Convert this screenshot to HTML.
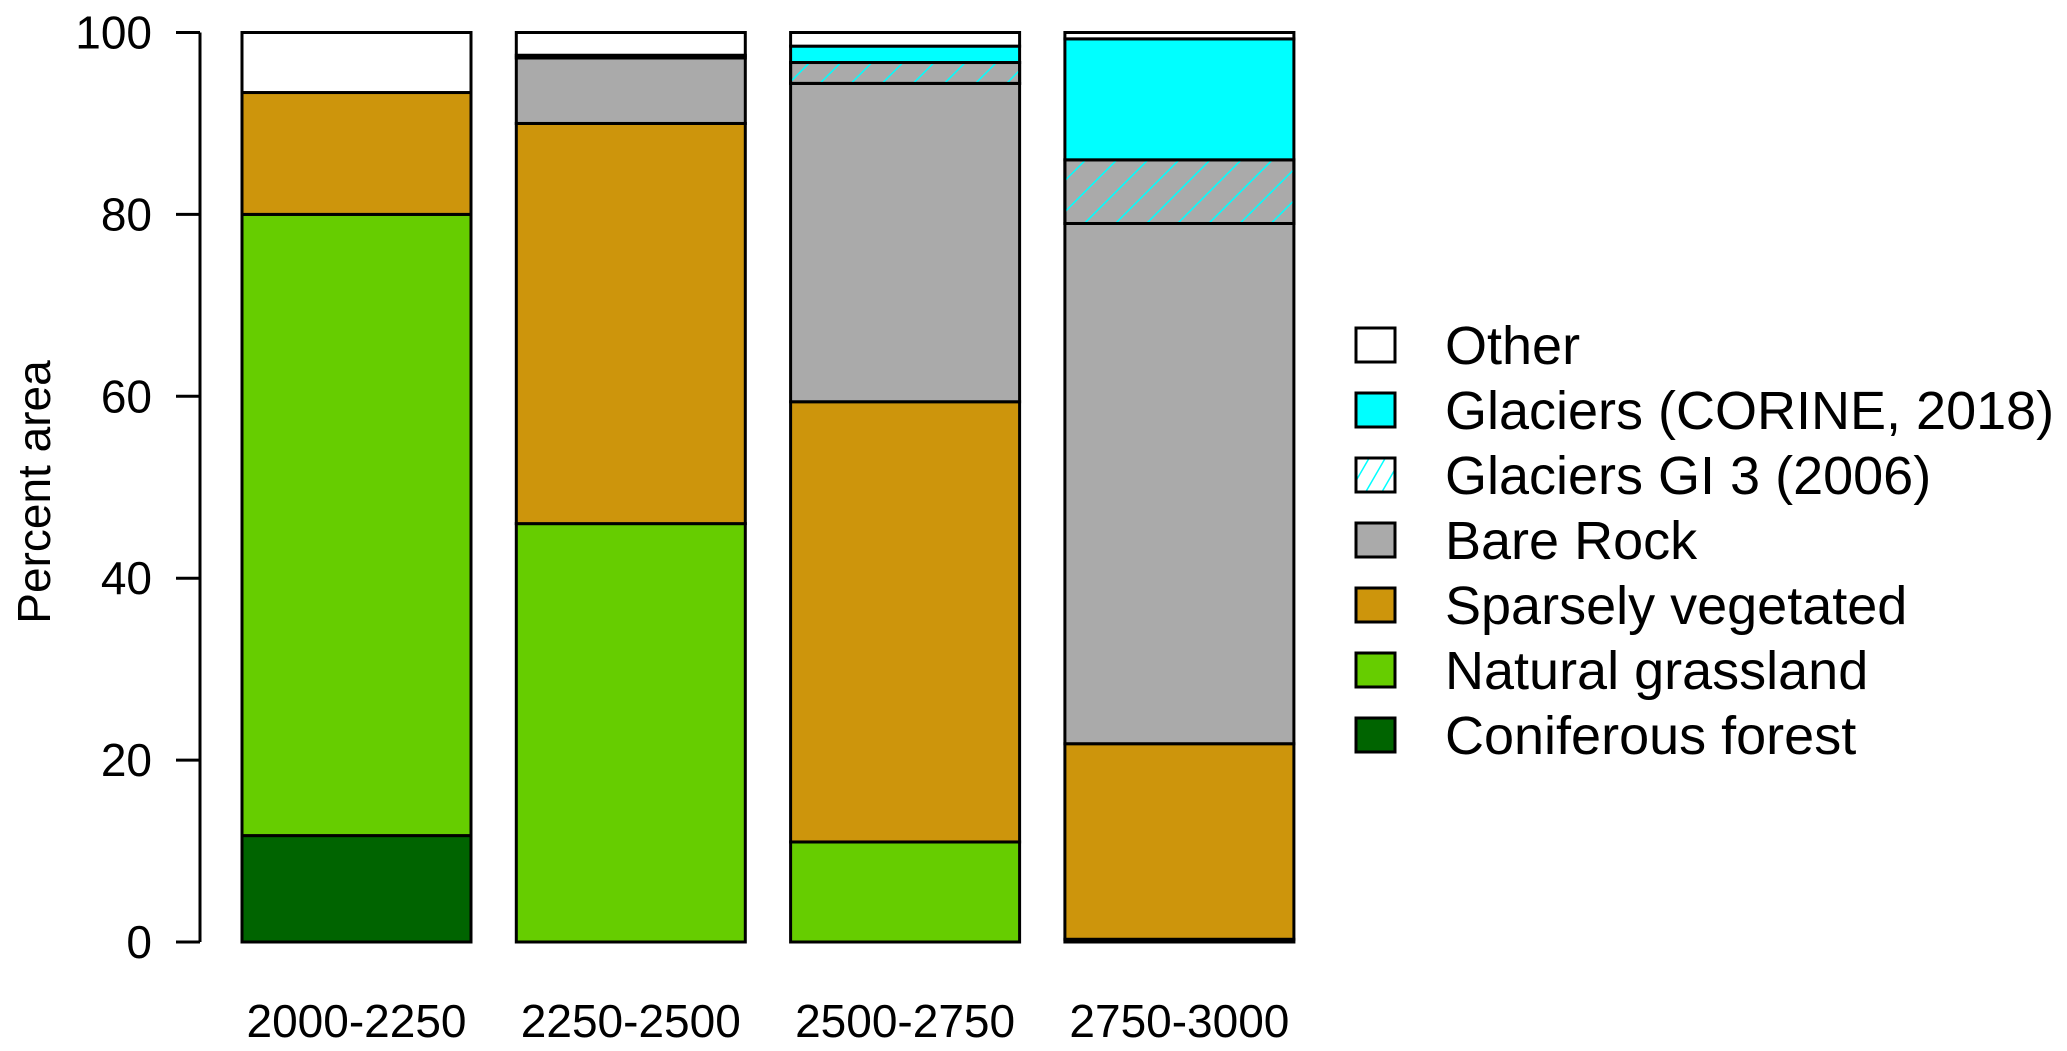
<!DOCTYPE html>
<html><head><meta charset="utf-8"><style>
html,body{margin:0;padding:0;background:#fff}
svg{display:block;font-family:"Liberation Sans",Arial,sans-serif}
</style></head><body>
<svg id="chart" width="2067" height="1051" viewBox="0 0 2067 1051" xmlns="http://www.w3.org/2000/svg">
<defs>
<pattern id="hatch" patternUnits="userSpaceOnUse" width="22" height="22" patternTransform="rotate(45)">
<line x1="0" y1="0" x2="0" y2="22" stroke="#00ffff" stroke-width="3"/>
</pattern>
<pattern id="hatchL" patternUnits="userSpaceOnUse" width="14" height="14" patternTransform="rotate(30)">
<line x1="0" y1="0" x2="0" y2="14" stroke="#00ffff" stroke-width="3"/>
</pattern>
</defs>
<g id="bars"></g>
<g id="axis"></g>
<g id="xlabels"></g>
<text x="0" y="0" transform="translate(50,492) rotate(-90)" text-anchor="middle" font-size="46">Percent area</text>
<g id="legend"></g>
</svg>
<script>
const categories = ["2000-2250","2250-2500","2500-2750","2750-3000"];
const coniferous = [11.7, 0, 0, 0];
const grassland = [68.3, 46, 11, 0.3];
const sparse = [13.4, 44, 48.4, 21.5];
const bareRock = [0, 7.2, 35, 57.2];
const glacierGI3 = [0, 0, 2.3, 7];
const glacierCorine = [0, 0.3, 1.8, 13.3];
const other = [6.6, 2.5, 1.5, 0.7];
const yTicks = [0, 20, 40, 60, 80, 100];
const seriesNames = ["Other","Glaciers (CORINE, 2018)","Glaciers GI 3 (2006)","Bare Rock","Sparsely vegetated","Natural grassland","Coniferous forest"];

const NS = "http://www.w3.org/2000/svg";
const y0 = 942, y100 = 32.5;
function yScale(v){ return y0 - (y0 - y100) * v / 100; }
const barLeft0 = 242, barStep = 274.3, barW = 229;
function xScale(i){ return barLeft0 + i * barStep; }

const stack = [
  {name:"coniferous-forest", vals:coniferous, fill:"#006400"},
  {name:"natural-grassland", vals:grassland, fill:"#66cd00"},
  {name:"sparsely-vegetated", vals:sparse, fill:"#cd950c"},
  {name:"bare-rock", vals:bareRock, fill:"#aaaaaa"},
  {name:"glaciers-gi3", vals:glacierGI3, fill:"#aaaaaa", hatch:true},
  {name:"glaciers-corine", vals:glacierCorine, fill:"#00ffff"},
  {name:"other", vals:other, fill:"#ffffff"}
];

function mk(tag, attrs, parent){
  const el = document.createElementNS(NS, tag);
  for (const k in attrs) el.setAttribute(k, attrs[k]);
  parent.appendChild(el);
  return el;
}

const barsG = document.getElementById("bars");
categories.forEach((c, i) => {
  let cum = 0;
  stack.forEach(s => {
    const v = s.vals[i];
    const yb = yScale(cum), yt = yScale(cum + v);
    cum += v;
    const r = mk("rect", {x:xScale(i), y:yt, width:barW, height:Math.max(0, yb-yt), fill:s.fill, stroke:"#000", "stroke-width":3}, barsG);
    
    
    if (s.hatch && v > 0) {
      const h = mk("rect", {x:xScale(i), y:yt, width:barW, height:Math.max(0, yb-yt), fill:"url(#hatch)", stroke:"#000", "stroke-width":3}, barsG);
      
      
    }
  });
});

const axisG = document.getElementById("axis");
const axLine = mk("line", {x1:200, x2:200, y1:yScale(0), y2:yScale(100), stroke:"#000", "stroke-width":3}, axisG);


yTicks.forEach(t => {
  const tk = mk("line", {x1:176, x2:200, y1:yScale(t), y2:yScale(t), stroke:"#000", "stroke-width":3}, axisG);
  
  
  const lb = mk("text", {x:152, y:yScale(t)+16, "text-anchor":"end", "font-size":46}, axisG);
  lb.textContent = String(t);
  
  
});

const xG = document.getElementById("xlabels");
categories.forEach((c, i) => {
  const t = mk("text", {x:xScale(i)+barW/2, y:1037, "text-anchor":"middle", "font-size":46}, xG);
  t.textContent = c;
  
  
});

const legG = document.getElementById("legend");
const legFills = ["#ffffff","#00ffff","url(#hatchL)","#aaaaaa","#cd950c","#66cd00","#006400"];
seriesNames.forEach((n, k) => {
  const cy = 345 + k * 65;
  const b = mk("rect", {x:1356, y:cy-17, width:39, height:34, fill:legFills[k], stroke:"#000", "stroke-width":3}, legG);
  
  
  const t = mk("text", {x:1445, y:cy+19, "font-size":54}, legG);
  t.textContent = n;
  
  
});
</script>
</body></html>
